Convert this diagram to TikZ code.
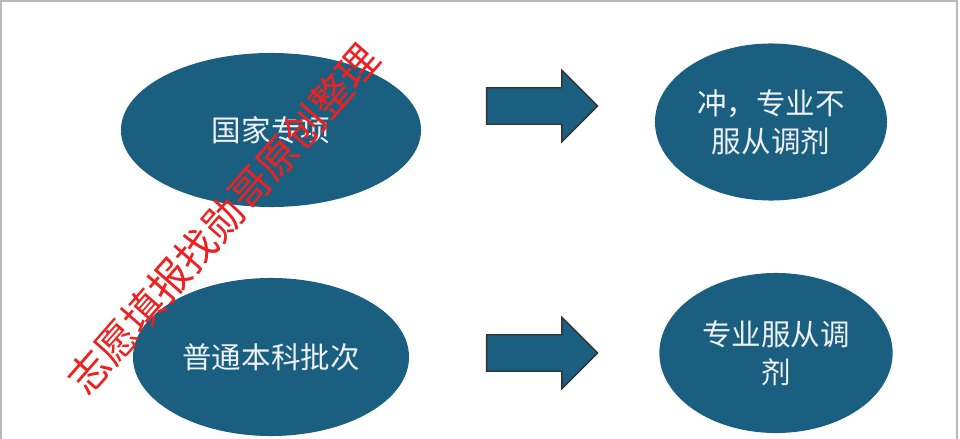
\documentclass[tikz,border=0pt]{standalone}
\usepackage{fontspec}
\newfontfamily\cjk{Noto Sans CJK SC}
\usetikzlibrary{shapes.geometric,shapes.arrows}
\definecolor{ovalblue}{RGB}{27,95,128}
\definecolor{ovaltext}{RGB}{238,242,246}
\definecolor{markred}{RGB}{238,32,32}
\tikzset{
  oval/.style={ellipse, fill=ovalblue, text=ovaltext, align=center, inner sep=0pt,
    font=\cjk\fontsize{21}{27}\selectfont},
  blockarrow/.style={single arrow, draw=black!80, line width=1pt, fill=ovalblue,
    inner xsep=0pt, inner ysep=0.4375cm, minimum height=2.775cm,
    single arrow head extend=0.4375cm, single arrow head indent=0pt},
  watermark/.style={text=markred, inner sep=0pt, font=\cjk\fontsize{29}{29}\selectfont}
}
\begin{document}
\begin{tikzpicture}[x=0.025cm, y=-0.025cm]
\useasboundingbox (0,0) rectangle (960,439);
\draw[gray!55, line width=1.5pt] (1,439) -- (1,1) -- (957,1) -- (957,439);

\node[oval, minimum width=7.5cm, minimum height=3.85cm] (national) at (271,130) {国家专项};
\node[oval, minimum width=6.9cm, minimum height=3.95cm] (regular) at (271,357) {普通本科批次};

\node[blockarrow] (arrowA) at (533,106) {};
\node[blockarrow] (arrowB) at (533,353) {};

\node[oval, minimum width=5.8cm, minimum height=3.925cm] (rush) at (771,122) {冲，专业不\\服从调剂};
\node[oval, minimum width=5.83cm, minimum height=4cm] (adjust) at (776,353) {专业服从调\\剂};

\node[watermark, rotate=48.8] (mark) at (223.5,219) {志愿填报找勋哥原创整理};
\end{tikzpicture}
\end{document}
